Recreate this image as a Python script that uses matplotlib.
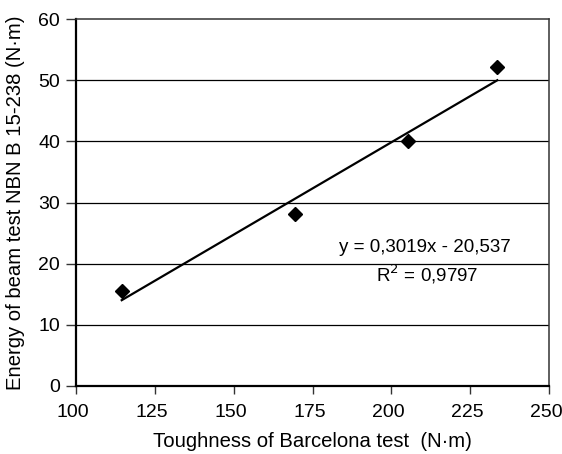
import matplotlib
matplotlib.use("Agg")
import matplotlib.pyplot as plt
import matplotlib.transforms as mtransforms
import numpy as np

plt.rcParams['font.family'] = ['Liberation Sans', 'DejaVu Sans']

barcelona = [114.5, 169.5, 205.2, 233.6]
beam = [15.6, 28.1, 40.0, 52.1]
slope = 0.3019
intercept = -20.537
eq_text = "y = 0,3019x - 20,537"
r2_text = "R$^2$ = 0,9797"
x_ticks = [100, 125, 150, 175, 200, 225, 250]
y_ticks = [0, 10, 20, 30, 40, 50, 60]

fig = plt.figure(figsize=(5.62, 4.54), dpi=100)
ax = fig.add_axes([0.1352, 0.1498, 0.8417, 0.8083])

ax.set_xlim(100, 250)
ax.set_ylim(0, 60)
ax.set_xticks(x_ticks)
ax.set_yticks(y_ticks)
ax.tick_params(axis='both', direction='out', labelsize=14, width=1, color='#333333')
ax.tick_params(axis='y', length=7, pad=4.5)
ax.tick_params(axis='x', length=6, pad=7)

offset = mtransforms.ScaledTranslation(-3 / 100, 0, fig.dpi_scale_trans)
for lbl in ax.get_xticklabels():
    lbl.set_transform(lbl.get_transform() + offset)

for y in y_ticks[1:-1]:
    ax.axhline(y, color='black', lw=0.9, zorder=1)

for s in ['left', 'bottom']:
    ax.spines[s].set_linewidth(1.6)
    ax.spines[s].set_color('black')
for s in ['top', 'right']:
    ax.spines[s].set_linewidth(1.1)
    ax.spines[s].set_color('#333333')

xs = np.array([min(barcelona), max(barcelona)])
ax.plot(xs, slope * xs + intercept, color='black', lw=1.6, zorder=2)
ax.plot(barcelona, beam, linestyle='none', marker='D', markersize=7.2,
        color='black', zorder=3)

ax.text(210.7, 22.7, eq_text, fontsize=13.5, ha='center', va='center')
ax.text(211.3, 18.2, r2_text, fontsize=13.5, ha='center', va='center')

ax.set_xlabel("Toughness of Barcelona test  (N·m)", fontsize=14.6)
ax.set_ylabel("Energy of beam test NBN B 15-238 (N·m)", fontsize=14.6)
ax.xaxis.set_label_coords(0.5, -0.125)
ax.yaxis.set_label_coords(-0.108, 0.5)

fig.savefig("out.png", dpi=100)
